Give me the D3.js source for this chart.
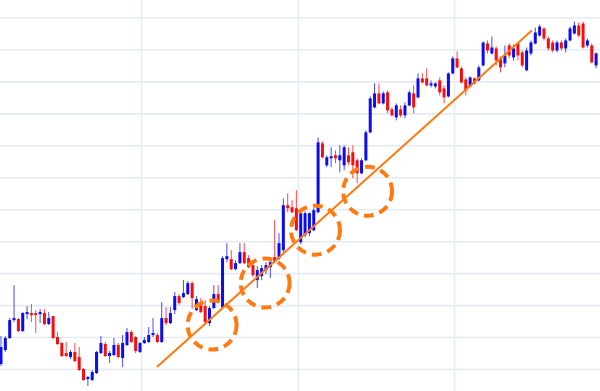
<!DOCTYPE html>
<html><head><meta charset="utf-8">
<script src="https://cdn.jsdelivr.net/npm/d3@7/dist/d3.min.js"></script>
<style>html,body{margin:0;padding:0;background:#fff;overflow:hidden}</style>
</head><body><svg id="c" width="600" height="391"></svg>
<script>
const open = [9.25,12.75,15.75,20.25,20.5,17.5,21.75,22,22,21.75,22,19.25,21.25,16,14.5,12,11,12.25,11,8,5.5,5.25,7,12,14.25,11.25,11.5,14,10.75,14,17.25,16,12.25,14.5,14.75,16.5,16.5,14.75,20.75,19.5,22.75,26.25,26,26.75,29.5,22.75,24.25,23.75,19.5,23.25,26.75,23.5,35.5,35.5,33,34.5,37.25,35.75,34,30.25,31.25,32.75,33.5,36,35.75,37.75,49,48.5,48.25,39.75,41.5,42,42.75,47.25,64.5,59,60.75,61.5,60.25,59,61.5,62.25,60.25,57,60.25,67.25,73.5,77,74.5,77.25,73,71,73,71.5,74,77,76,80.75,80.75,79,78.75,80.25,78.25,76.25,82,85.75,83.25,80.5,78.75,80.75,80.25,84,89.5,87,88.25,85.75,84.5,89,86,89.5,87.25,82.75,87,89.5,91.5,93.25,90.75,89.75,87.75,89.75,88.25,90.25,92,94,94.5,89,89,84];
const high = [16.25,16.25,20.75,29,20.75,22.25,23.75,24.25,22.75,23,23,22.25,21.25,17.25,14.75,14.75,12.75,14.5,13.5,8.25,6.25,7.75,12.5,16.25,14.75,12.5,15.75,14.5,16.5,18.25,17.75,16.25,14.75,16,18.5,20.75,17,24.75,23.5,23.5,27.25,26.75,30.25,30,30,26.25,25.75,25.25,23.75,29,29,36.25,39.5,37.75,35.25,39.5,39.5,36.5,34.75,33.75,34,34.75,35.75,45.25,42,50.75,52,50.25,52.75,47.25,47.5,47.25,48.25,66,65,61.5,63.5,62.75,64,64,63.5,64,60.75,60.75,67.75,76.25,79.5,79.5,77.5,77.75,73.5,74.5,74,74.75,77.75,79,82,82,83.25,80.25,79.75,81,79,82.25,86.25,87.5,83.75,81,81.25,81,84,90,90.25,91.25,88.75,86.25,89,89.5,89.25,89.75,87.75,88.5,90.25,93.5,94.25,93.5,91.25,90.25,90.25,90.25,90.75,93.75,95,94.75,95,90.75,89.5,87.25];
const low = [8.75,12.25,15.5,19.75,17.25,17.25,20.5,19.75,17,19.5,19,19,15.5,14,11,11,10.5,9.75,7.5,5,3.75,5,6.75,11.75,11,9.5,11.25,10.75,8.5,13.75,14.5,12,12,14.25,14.5,16,14.5,14.5,19,19.25,21.75,24,25.75,26.5,23,22.5,22,19,18.75,23,24.5,23.25,34.75,32.75,32.75,34.25,34.25,33.25,31,28.25,30.25,31.75,30.75,34.5,35.25,37.25,47.25,47,42.5,39.25,41,41.25,42.5,47,60.75,58.5,58.5,59.5,57.25,57.75,59,55.75,54.5,56.75,60,67,73.25,74.25,74.25,72,71.25,70.25,71,70.75,73.75,72,75.75,79.5,78.75,78.5,78.25,76.5,74.5,76,81.75,83.25,79.5,76.5,78.5,79.25,80,83.75,87,86.75,84,82.25,83.5,85.75,85.25,85.25,83.5,82.75,86.5,89.25,91.25,90.25,87.75,87.25,87.25,87.75,87.25,90,91.75,91,88.25,88.5,84.5,83.25];
const close = [13.5,15.75,20.25,20.75,17.5,22,22.25,21.5,21.5,22.25,19.25,20.75,15.75,14.25,11.25,11.25,12.25,10,7.75,5.25,6,7.25,12.25,14.5,11.25,12,14,11,14.5,17.25,14.75,12.5,14.5,15.25,16.5,17,14.75,20.75,19.5,22,26.25,24.5,27,29.5,25.75,25.5,22.25,19.75,23.25,26.75,24.75,35.75,36.25,33,34.5,37.25,34.5,33.5,31.5,32.75,33.25,34,34.75,34.75,39.5,49,48.25,47.25,42.75,47,47,47,47.75,64.75,61,61,61.25,60.75,61.5,63.5,59.75,59,57,60.25,67.25,75.75,77,74.5,77,72.75,71.5,74,71.5,74,77.25,73.5,80.75,79.75,79,79.5,79.5,77.25,76,82,85.75,83.5,79.75,77.75,81,79.5,83.5,89.75,87.75,88.5,85.25,83.5,86.5,86.5,88.25,86.5,84,87.75,89.75,92.25,93.75,90.75,88.25,87.75,89.75,88.25,90.25,93.25,94,91.5,88.5,90.25,84.75,87];

const priceTicks = [8,16,24,32,40,48,56,64,72,80,88,96];
const timeTicks = [32.25, 68.35, 104.3];
const trendIdx = [35.9, 122.2];
const trendVal = [8.5, 92.75];
const circleIdx = [48.6, 60.8, 72.4, 84.4];
const circleVal = [19, 29.5, 42.75, 52.5];

const W = 600, H = 391;
const svg = d3.select('#c');
svg.append('rect').attr('width', W).attr('height', H).attr('fill', '#fff');

const x = d3.scaleLinear().domain([0, open.length - 1]).range([1, 596.1]);
const y = d3.scaleLinear().domain([8, 96]).range([369, 17.5]);

const gy = svg.append('g').call(d3.axisLeft(y).tickValues(priceTicks).tickSize(-W).tickFormat(''));
const gx = svg.append('g').attr('transform', `translate(0,${H})`).call(d3.axisBottom(x).tickValues(timeTicks).tickSize(-H).tickFormat(''));
[gy, gx].forEach(g => {
  g.select('.domain').remove();
  g.selectAll('line').attr('stroke', '#e3ebf4').attr('stroke-width', 1.6);
});

const data = open.map((o, i) => ({i, o, h: high[i], l: low[i], c: close[i]}));
const col = d => d.c >= d.o ? '#0c0cf0' : '#f80c0c';

const cg = svg.append('g');
cg.selectAll('line.w').data(data).join('line')
  .attr('x1', d => x(d.i)).attr('x2', d => x(d.i))
  .attr('y1', d => y(d.h)).attr('y2', d => y(d.l))
  .attr('stroke', col).attr('stroke-opacity', 0.75).attr('stroke-width', 1);
cg.selectAll('rect.b').data(data).join('rect')
  .attr('x', d => x(d.i) - 1.5).attr('width', 3)
  .attr('y', d => y(Math.max(d.o, d.c)))
  .attr('height', d => Math.max(1.2, Math.abs(y(d.o) - y(d.c))))
  .attr('fill', col);

svg.append('line')
  .attr('x1', x(trendIdx[0])).attr('y1', y(trendVal[0]))
  .attr('x2', x(trendIdx[1])).attr('y2', y(trendVal[1]))
  .attr('stroke', '#ff7a10').attr('stroke-width', 2);

svg.selectAll('circle.m').data(circleIdx).join('circle')
  .attr('cx', (d, k) => x(d)).attr('cy', (d, k) => y(circleVal[k]))
  .attr('r', 24.5).attr('fill', 'none')
  .attr('stroke', '#ff7a10').attr('stroke-width', 4)
  .attr('stroke-dasharray', '10,6');
</script></body></html>
